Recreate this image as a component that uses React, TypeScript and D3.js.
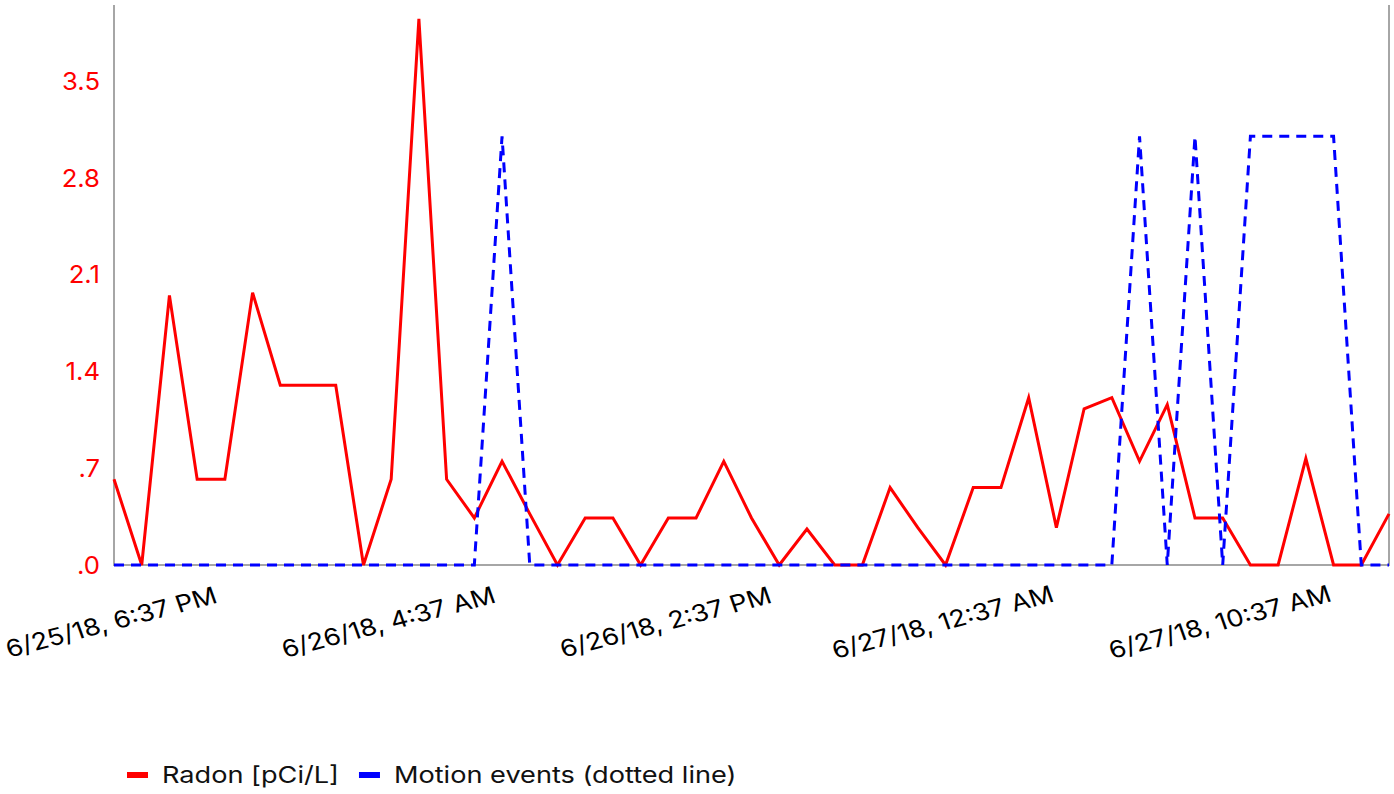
import React, { useEffect, useRef } from 'react';
import * as d3 from 'd3';

// Hourly readings starting 6/25/18, 6:37 PM
const radon = [0.62, 0, 1.95, 0.62, 0.62, 1.97, 1.3, 1.3, 1.3, 0, 0.62, 3.95, 0.62, 0.34, 0.75, 0.37, 0, 0.34, 0.34, 0, 0.34, 0.34, 0.75, 0.34, 0, 0.26, 0, 0, 0.56, 0.27, 0, 0.56, 0.56, 1.21, 0.27, 1.13, 1.21, 0.75, 1.16, 0.34, 0.34, 0, 0, 0.77, 0, 0, 0.37];
const motion = [0, 0, 0, 0, 0, 0, 0, 0, 0, 0, 0, 0, 0, 0, 3.1, 0, 0, 0, 0, 0, 0, 0, 0, 0, 0, 0, 0, 0, 0, 0, 0, 0, 0, 0, 0, 0, 0, 3.1, 0, 3.1, 0, 3.1, 3.1, 3.1, 3.1, 0, 0];
const xTickIndex = [0, 10, 20, 30, 40];
const xTickLabels = ['6/25/18, 6:37 PM', '6/26/18, 4:37 AM', '6/26/18, 2:37 PM', '6/27/18, 12:37 AM', '6/27/18, 10:37 AM'];
const yTicks = [0, 0.7, 1.4, 2.1, 2.8, 3.5];
const yMax = 4.05;
const legendItems = [
  { label: 'Radon [pCi/L]', color: '#ff0000' },
  { label: 'Motion events (dotted line)', color: '#0000ff' },
];

const W = 1394;
const H = 794;
const FONT = 'Inter, Roboto, sans-serif';

export default function App() {
  const ref = useRef<SVGSVGElement>(null);
  useEffect(() => {
    const svg = d3.select(ref.current);
    svg.selectAll('*').remove();
    const left = 114, right = 1389, top = 5, bottom = 565;
    const x = d3.scaleLinear().domain([0, radon.length - 1]).range([left, right]);
    const y = d3.scaleLinear().domain([0, yMax]).range([bottom, top]);

    const axisColor = '#a6a6a6';
    svg.append('line').attr('x1', left).attr('x2', left).attr('y1', top).attr('y2', bottom + 1)
      .attr('stroke', axisColor).attr('stroke-width', 2);
    svg.append('line').attr('x1', right).attr('x2', right).attr('y1', top).attr('y2', bottom + 1)
      .attr('stroke', axisColor).attr('stroke-width', 2);
    svg.append('line').attr('x1', left).attr('x2', right + 1).attr('y1', bottom).attr('y2', bottom)
      .attr('stroke', axisColor).attr('stroke-width', 2);

    const fmt = d3.format('.1f');
    svg.append('g').selectAll('text').data(yTicks).join('text')
      .attr('transform', d => `translate(100,${y(d)}) scale(1.07,1)`)
      .attr('text-anchor', 'end')
      .attr('dominant-baseline', 'central')
      .attr('font-family', FONT)
      .attr('font-size', 24)
      .attr('fill', '#ff0000')
      .text(d => fmt(d).replace(/^0/, ''));

    svg.append('g').selectAll('text').data(xTickIndex).join('text')
      .attr('transform', d => `translate(${x(d)},630) scale(1.16,1) rotate(-17)`)
      .attr('text-anchor', 'middle')
      .attr('font-family', FONT)
      .attr('font-size', 23.5)
      .attr('fill', '#000')
      .text((d, i) => xTickLabels[i]);

    const line = d3.line<number>().x((d, i) => x(i)).y(d => y(d));
    svg.append('path').attr('d', line(radon)).attr('fill', 'none')
      .attr('stroke', '#ff0000').attr('stroke-width', 3);
    svg.append('path').attr('d', line(motion)).attr('fill', 'none')
      .attr('stroke', '#0000ff').attr('stroke-width', 3).attr('stroke-dasharray', '10 7');

    const LSX = 1.18;
    const lg = svg.append('g');
    let cx = 127;
    legendItems.forEach(item => {
      lg.append('rect').attr('x', cx).attr('y', 772).attr('width', 21).attr('height', 6).attr('fill', item.color);
      const t = lg.append('text').attr('x', 0).attr('y', 0)
        .attr('transform', `translate(${cx + 35},783) scale(${LSX},1)`)
        .attr('font-family', FONT).attr('font-size', 23).attr('fill', '#111')
        .text(item.label);
      const w = (t.node() as SVGTextElement).getComputedTextLength() * LSX;
      cx = cx + 35 + w + 20;
    });
  }, []);
  return (
    <svg ref={ref} width={W} height={H} style={{ position: 'absolute', left: 0, top: 0, background: '#fff' }} />
  );
}
